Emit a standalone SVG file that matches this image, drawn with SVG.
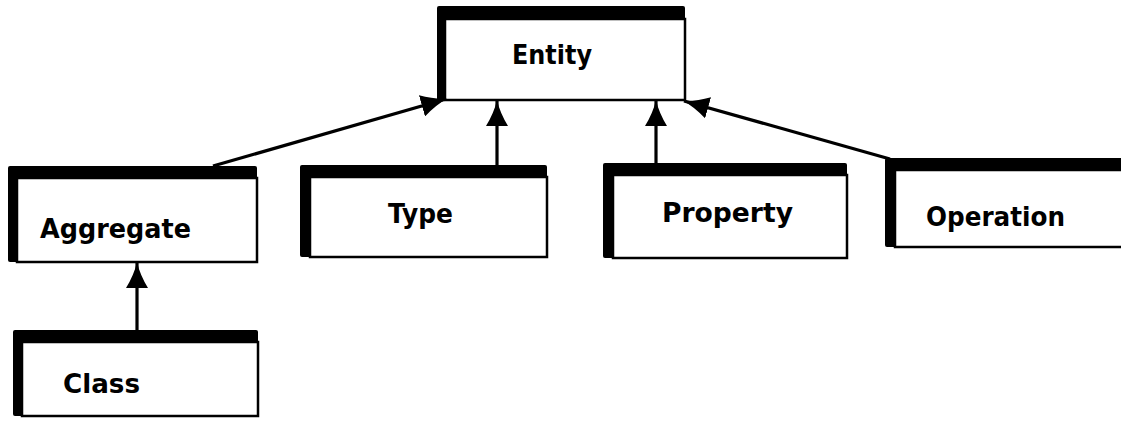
<svg xmlns="http://www.w3.org/2000/svg" width="1121" height="426" viewBox="0 0 1121 426">
  <style>
    .shadow { fill: #000; }
    .box { fill: #fff; stroke: #000; stroke-width: 2.5; }
    .label { font-family: "DejaVu Sans", "Liberation Sans", sans-serif; font-weight: bold; font-size: 27px; fill: #000; }
    .edge { stroke: #000; stroke-width: 3.2; fill: none; marker-end: url(#head); }
  </style>
  <defs>
    <marker id="head" viewBox="0 0 26 22" markerWidth="26" markerHeight="22" refX="25" refY="11" orient="auto" markerUnits="userSpaceOnUse">
      <path d="M0,0 Q13,8 26,11 Q13,14 0,22 Z" fill="#000"/>
    </marker>
  </defs>

  <rect width="1121" height="426" fill="#fff"/>

  <!-- Entity -->
  <g id="entity">
    <rect class="shadow" x="437" y="6" width="248" height="95" rx="2"/>
    <rect class="box" x="445" y="19" width="240" height="81"/>
    <text class="label" x="512" y="64" textLength="80" lengthAdjust="spacingAndGlyphs">Entity</text>
  </g>

  <!-- Aggregate -->
  <g id="aggregate">
    <rect class="shadow" x="8" y="166" width="249" height="96" rx="2"/>
    <rect class="box" x="17" y="178" width="240" height="84"/>
    <text class="label" x="40" y="238" textLength="151" lengthAdjust="spacingAndGlyphs">Aggregate</text>
  </g>

  <!-- Type -->
  <g id="type">
    <rect class="shadow" x="300" y="165" width="247" height="92" rx="2"/>
    <rect class="box" x="310" y="177" width="237" height="80"/>
    <text class="label" x="388" y="223" textLength="65" lengthAdjust="spacingAndGlyphs">Type</text>
  </g>

  <!-- Property -->
  <g id="property">
    <rect class="shadow" x="603" y="163" width="244" height="95" rx="2"/>
    <rect class="box" x="613" y="175" width="234" height="83"/>
    <text class="label" x="662" y="222" textLength="131" lengthAdjust="spacingAndGlyphs">Property</text>
  </g>

  <!-- Operation -->
  <g id="operation">
    <rect class="shadow" x="885" y="158" width="260" height="89" rx="2"/>
    <rect class="box" x="895" y="170" width="250" height="77"/>
    <text class="label" x="926" y="226" textLength="139" lengthAdjust="spacingAndGlyphs">Operation</text>
  </g>

  <!-- Class -->
  <g id="class">
    <rect class="shadow" x="13" y="330" width="245" height="86" rx="2"/>
    <rect class="box" x="22" y="342" width="236" height="74"/>
    <text class="label" x="63" y="393" textLength="77" lengthAdjust="spacingAndGlyphs">Class</text>
  </g>

  <!-- Generalisation links -->
  <g id="connectors">
    <line class="edge" x1="213" y1="166" x2="446" y2="99"/>
    <line class="edge" x1="497" y1="165" x2="497" y2="101"/>
    <line class="edge" x1="656" y1="163" x2="656" y2="101"/>
    <line class="edge" x1="890" y1="159" x2="684" y2="101"/>
    <line class="edge" x1="137" y1="330" x2="137" y2="263"/>
  </g>
</svg>
